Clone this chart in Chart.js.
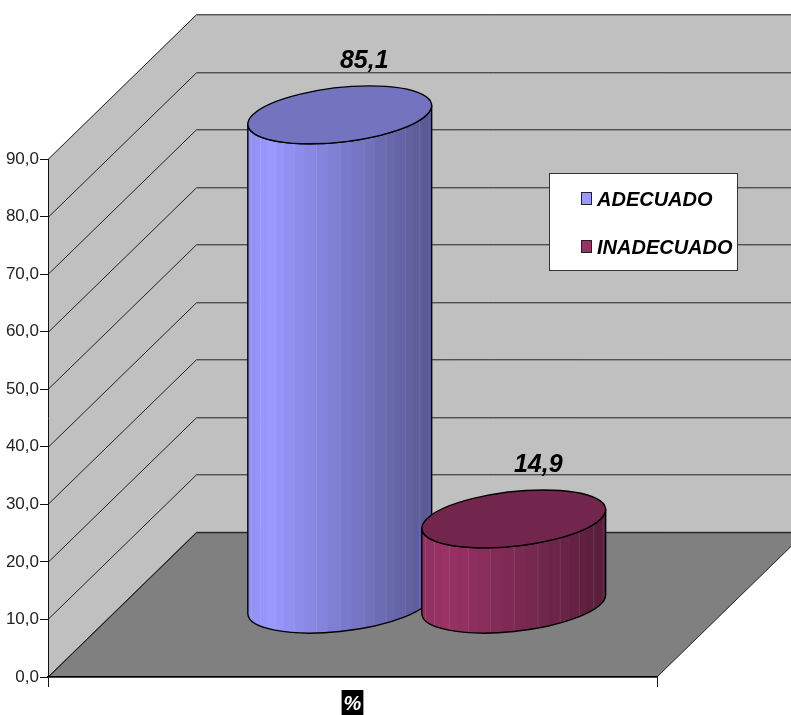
<!DOCTYPE html>
<html>
<head>
<meta charset="utf-8">
<title>ADECUADO / INADECUADO</title>
<script src="https://cdn.jsdelivr.net/npm/chart.js@4"></script>
<style>
  html, body { margin: 0; padding: 0; background: #fff; overflow: hidden; }
  canvas { display: block; }
</style>
</head>
<body>
<canvas id="chart" width="791" height="715"></canvas>
<script>
/* ── Data ── */
const categories = ['%'];
const adecuado = [85.1];
const inadecuado = [14.9];
const seriesNames = ['ADECUADO', 'INADECUADO'];
const sideRgb = [[153, 153, 255], [153, 51, 102]];

/* ── Box look: depth of the walls and floor ── */
const DEPTH_X = 148.5;
const DEPTH_Y = -144.7;
const DISC_DEPTH = 0.4;   // share of the depth taken by a cylinder
const FACETS = 24;
const NARROW = "'Liberation Sans Narrow', 'Liberation Sans', sans-serif";

const fmt = v => v.toFixed(1).replace('.', ',');

function shade(rgb, k) {
  return `rgb(${rgb.map(c => Math.round(c * k)).join(',')})`;
}

// brightness across the side of a cylinder, f = 0 left edge, 1 right edge
function sideLight(f) {
  if (f < 0.12) return 0.94 + (f / 0.12) * 0.06;
  return 1 - ((f - 0.12) / 0.88) * 0.43;
}

/* ── Walls and floor ── */
const boxPlugin = {
  id: 'box',
  beforeDraw(chart) {
    const { ctx, scales: { x, y }, chartArea: a, width } = chart;
    const y0 = y.getPixelForValue(0);
    const yMax = y.getPixelForValue(y.max);
    ctx.save();
    ctx.fillStyle = '#C0C0C0';
    ctx.beginPath();
    ctx.moveTo(a.left, y0);
    ctx.lineTo(a.left, yMax);
    ctx.lineTo(a.left + DEPTH_X, yMax + DEPTH_Y);
    ctx.lineTo(width, yMax + DEPTH_Y);
    ctx.lineTo(width, y0 + DEPTH_Y);
    ctx.lineTo(a.left + DEPTH_X, y0 + DEPTH_Y);
    ctx.closePath();
    ctx.fill();

    ctx.fillStyle = '#808080';
    ctx.strokeStyle = '#222';
    ctx.lineWidth = 1;
    ctx.beginPath();
    ctx.moveTo(a.left, y0);
    ctx.lineTo(a.left + DEPTH_X, y0 + DEPTH_Y);
    ctx.lineTo(a.right + DEPTH_X, y0 + DEPTH_Y);
    ctx.lineTo(a.right, y0);
    ctx.closePath();
    ctx.fill();
    ctx.stroke();

    y.ticks.forEach(t => {
      const py = Math.round(y.getPixelForValue(t.value)) + 0.5;
      ctx.beginPath();
      ctx.moveTo(a.left, py);
      ctx.lineTo(a.left + DEPTH_X, py + DEPTH_Y);
      ctx.lineTo(width, py + DEPTH_Y);
      ctx.stroke();
    });
    ctx.restore();
  }
};

/* ── Cylinders instead of flat bars ── */
function drawCylinder(ctx, bar, rgb) {
  const cx = bar.x + DEPTH_X / 2;
  const half = bar.width / 2;
  const b = DEPTH_X * DISC_DEPTH / 2;
  const bp = -DEPTH_Y * DISC_DEPTH / 2;
  const yBase = bar.base + DEPTH_Y / 2;
  const yTop = bar.y + DEPTH_Y / 2;
  const reach = Math.hypot(half, b);
  const tR = Math.atan2(b, half);
  const tL = tR + Math.PI;

  const disc = (cy, from, to, back) => {
    ctx.save();
    ctx.transform(half, 0, b, -bp, cx, cy);
    ctx.arc(0, 0, 1, from, to, back);
    ctx.restore();
  };
  const bodyPath = () => {
    ctx.beginPath();
    disc(yBase, tL, tR + Math.PI * 2, false);
    disc(yTop, tR + Math.PI * 2, tL, true);
    ctx.closePath();
  };

  ctx.save();
  bodyPath();
  ctx.save();
  ctx.clip();
  const edges = [];
  for (let i = 0; i <= FACETS; i++) {
    edges.push(cx - reach * Math.cos((i / FACETS) * Math.PI));
  }
  for (let i = 0; i < FACETS; i++) {
    const mid = (edges[i] + edges[i + 1]) / 2;
    ctx.fillStyle = shade(rgb, sideLight((mid - cx + reach) / (2 * reach)));
    ctx.fillRect(edges[i], yTop - bp * 2, edges[i + 1] - edges[i] + 0.5, yBase - yTop + bp * 4);
    if (i > 0 && i % 2 === 0) {
      ctx.fillStyle = 'rgba(255,255,255,0.10)';
      ctx.fillRect(edges[i], yTop - bp * 2, 1, yBase - yTop + bp * 4);
    }
  }
  ctx.restore();

  ctx.strokeStyle = '#000';
  ctx.lineWidth = 1.4;
  ctx.lineJoin = 'round';
  bodyPath();
  ctx.stroke();

  ctx.beginPath();
  disc(yTop, 0, Math.PI * 2, false);
  ctx.closePath();
  ctx.fillStyle = shade(rgb, 0.75);
  ctx.fill();
  ctx.stroke();
  ctx.restore();
}

const cylinderPlugin = {
  id: 'cylinders',
  beforeDatasetDraw() { return false; },
  afterDatasetsDraw(chart) {
    const { ctx } = chart;
    chart.data.datasets.forEach((ds, i) => {
      chart.getDatasetMeta(i).data.forEach((bar, j) => {
        drawCylinder(ctx, bar, sideRgb[i]);
        ctx.save();
        ctx.font = `italic bold 25px ${NARROW}`;
        ctx.fillStyle = '#000';
        ctx.textAlign = 'center';
        ctx.fillText(fmt(ds.data[j]), bar.x + DEPTH_X / 2 + 24.5, bar.y + DEPTH_Y / 2 - 47);
        ctx.restore();
      });
    });
  }
};

/* ── Legend box ── */
const legendPlugin = {
  id: 'legendBox',
  afterDraw(chart) {
    const { ctx } = chart;
    ctx.save();
    ctx.fillStyle = '#fff';
    ctx.strokeStyle = '#333';
    ctx.lineWidth = 1;
    ctx.fillRect(549.5, 173.5, 188, 97);
    ctx.strokeRect(549.5, 173.5, 188, 97);
    ctx.font = `italic bold 20px ${NARROW}`;
    chart.data.datasets.forEach((ds, i) => {
      const top = 192.5 + i * 48;
      ctx.fillStyle = ds.backgroundColor;
      ctx.strokeStyle = '#222';
      ctx.fillRect(581.5, top, 10, 12);
      ctx.strokeRect(581.5, top, 10, 12);
      ctx.fillStyle = '#000';
      ctx.fillText(ds.label, 597, top + 13);
    });
    ctx.restore();
  }
};

/* ── Chart ── */
new Chart(document.getElementById('chart'), {
  type: 'bar',
  data: {
    labels: categories,
    datasets: [
      { label: seriesNames[0], data: adecuado, backgroundColor: shade(sideRgb[0], 1) },
      { label: seriesNames[1], data: inadecuado, backgroundColor: shade(sideRgb[1], 1) }
    ]
  },
  options: {
    responsive: false,
    animation: false,
    devicePixelRatio: 1,
    barPercentage: 1,
    categoryPercentage: 0.5714,
    layout: { padding: { top: 159, right: 134, left: 0, bottom: 0 } },
    plugins: { legend: { display: false }, tooltip: { enabled: false } },
    scales: {
      x: {
        afterFit(s) { s.height = 38; },
        grid: { drawOnChartArea: false, color: '#111', tickLength: 10, offset: true },
        border: { color: '#000', width: 1.5 },
        ticks: {
          color: '#fff',
          padding: 5,
          font: { family: NARROW, size: 20, style: 'italic', weight: 'bold' },
          showLabelBackdrop: true,
          backdropColor: '#000',
          backdropPadding: { top: 2, bottom: 2, left: 2, right: 2 }
        }
      },
      y: {
        min: 0,
        max: 90,
        afterFit(s) { s.width = 48; },
        grid: { drawOnChartArea: false, color: '#111', tickLength: 8 },
        border: { color: '#111', width: 1 },
        ticks: {
          stepSize: 10,
          color: '#222',
          padding: 1,
          font: { family: NARROW, size: 17 },
          callback: v => fmt(v)
        }
      }
    }
  },
  plugins: [boxPlugin, cylinderPlugin, legendPlugin]
});
</script>
</body>
</html>
